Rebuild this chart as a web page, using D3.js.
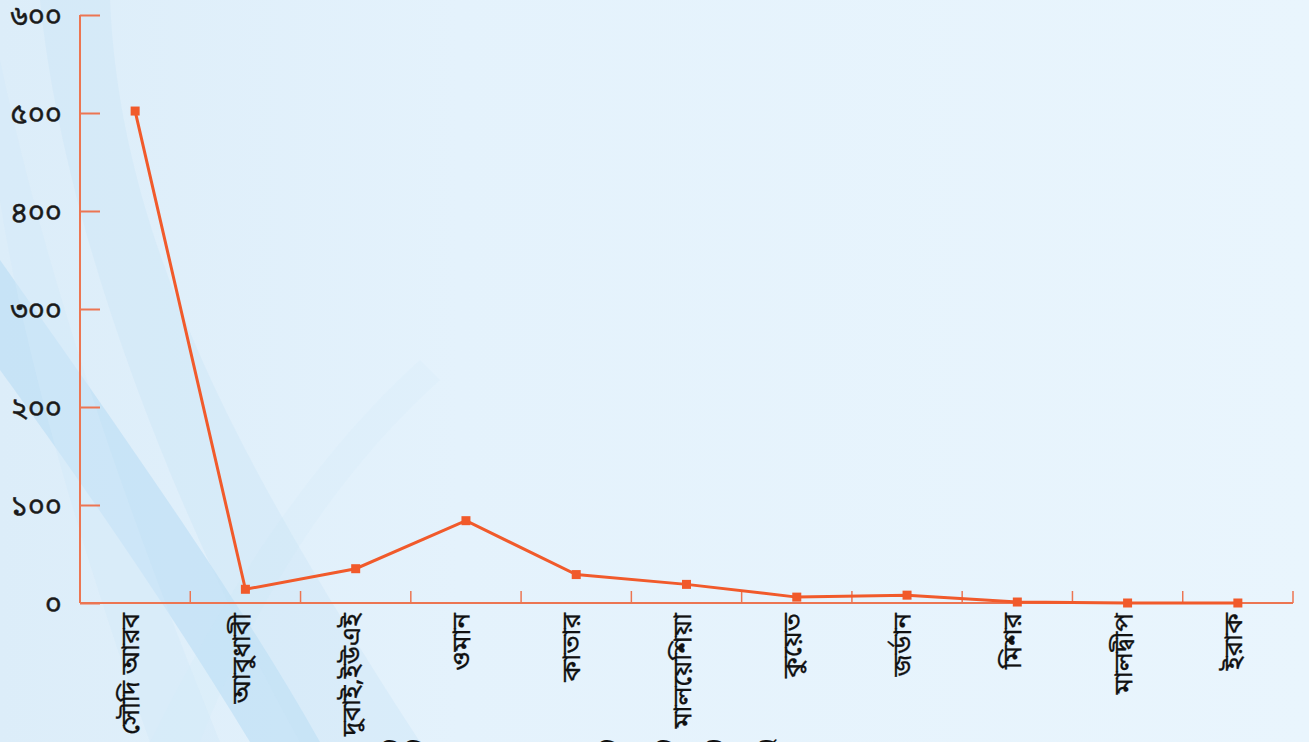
<!DOCTYPE html>
<html><head><meta charset="utf-8">
<script src="https://cdn.jsdelivr.net/npm/d3@7/dist/d3.min.js"></script>
<style>html,body{margin:0;padding:0;overflow:hidden;background:#e8f4fd}</style>
</head><body><svg id="c" width="1309" height="742"></svg>
<script>
const categories = ["সৌদি আরব","আবুধাবী","দুবাই,ইউএই","ওমান","কাতার","মালয়েশিয়া","কুয়েত","জর্ডান","মিশর","মালদ্বীপ","ইরাক"];
const values = [502, 14, 35, 84, 29, 19, 6, 8, 1, 0, 0];
const yTicks = [0,100,200,300,400,500,600];
const yTickLabels = ["০","১০০","২০০","৩০০","৪০০","৫০০","৬০০"];
const title = "বিভিন্ন দেশে বাংলাদেশি অভিবাসী কর্মীর সংখ্যা (হাজার)";

const svg = d3.select("#c");
const W = 1309, H = 742;
const axisColor = "#ec7552", lineColor = "#f15a2b";
const font = "'Noto Sans Bengali','Noto Sans','Noto Sans CJK SC',sans-serif";

// background
const defs = svg.append("defs");
const bg = defs.append("linearGradient").attr("id","bg").attr("x1",0).attr("y1",0).attr("x2",1).attr("y2",0);
bg.append("stop").attr("offset","0%").attr("stop-color","#dcedf9");
bg.append("stop").attr("offset","35%").attr("stop-color","#e4f2fc");
bg.append("stop").attr("offset","100%").attr("stop-color","#e9f5fd");
svg.append("rect").attr("width",W).attr("height",H).attr("fill","url(#bg)");
const bands = [
  {d:"M0,260 C120,430 240,600 320,742 L250,742 C170,610 80,480 0,370 Z", c:"#a8d4f2", o:0.40},
  {d:"M40,0 C60,200 150,470 300,742 L420,742 C250,480 120,250 110,0 Z", c:"#c4e2f6", o:0.30},
  {d:"M150,742 C230,580 320,450 420,360 L440,380 C340,470 260,590 200,742 Z", c:"#c6e3f7", o:0.12},
  {d:"M0,60 C40,250 110,470 220,742 L150,742 C70,520 20,330 0,200 Z", c:"#d3e9f9", o:0.45}
];
svg.selectAll("path.band").data(bands).enter().append("path").attr("class","band")
  .attr("d",d=>d.d).attr("fill",d=>d.c).attr("opacity",d=>d.o);

const x0 = 80, x1 = 1293, yTop = 15, yBot = 603;
const x = d3.scaleBand().domain(categories).range([x0,x1]).padding(0);
const y = d3.scaleLinear().domain([0,600]).range([yBot,yTop]);

// y axis
const yAxis = d3.axisRight(y).tickValues(yTicks).tickSize(20).tickFormat("");
const gy = svg.append("g").attr("transform",`translate(${x0},0)`).call(yAxis);
gy.select(".domain").attr("stroke",axisColor).attr("stroke-width",2).attr("d",`M0,${yTop}V${yBot}`);
gy.selectAll(".tick line").attr("stroke",axisColor).attr("stroke-width",2);
svg.append("g").selectAll("text").data(yTicks).enter().append("text")
  .attr("x",62).attr("y",d=>y(d)+1).attr("dy","0.35em").attr("text-anchor","end")
  .attr("font-family",font).attr("font-size",29).attr("fill","#1a1a1a")
  .attr("stroke","#1a1a1a").attr("stroke-width",0.5)
  .text((d,i)=>yTickLabels[i]);

// x axis
const bounds = categories.map(c=>x(c)+x.bandwidth());
const gx = svg.append("g");
gx.append("line").attr("x1",x0).attr("x2",x1).attr("y1",yBot).attr("y2",yBot).attr("stroke",axisColor).attr("stroke-width",2);
gx.selectAll("line.t").data(bounds).enter().append("line").attr("class","t")
  .attr("x1",d=>d).attr("x2",d=>d).attr("y1",yBot).attr("y2",yBot-12).attr("stroke",axisColor).attr("stroke-width",1.5);
gx.selectAll("text").data(categories).enter().append("text")
  .attr("transform",d=>`translate(${x(d)+x.bandwidth()/2-5},613) rotate(-90)`)
  .attr("dy","0.35em").attr("text-anchor","end")
  .attr("font-family",font).attr("font-size",26).attr("fill","#111")
  .attr("stroke","#111").attr("stroke-width",0.3)
  .text(d=>d);

// line
const line = d3.line().x((d,i)=>x(categories[i])+x.bandwidth()/2).y(d=>y(d));
svg.append("path").datum(values).attr("d",line).attr("fill","none").attr("stroke",lineColor).attr("stroke-width",3);
svg.selectAll("rect.m").data(values).enter().append("rect").attr("class","m")
  .attr("x",(d,i)=>x(categories[i])+x.bandwidth()/2-4.5).attr("y",d=>y(d)-4.5)
  .attr("width",9).attr("height",9).attr("fill",lineColor);

// title (cut off at bottom, as in the reference)
svg.append("text").attr("x",668).attr("y",765).attr("text-anchor","middle")
  .attr("font-family",font).attr("font-size",27).attr("fill","#111").text(title);
</script></body></html>
